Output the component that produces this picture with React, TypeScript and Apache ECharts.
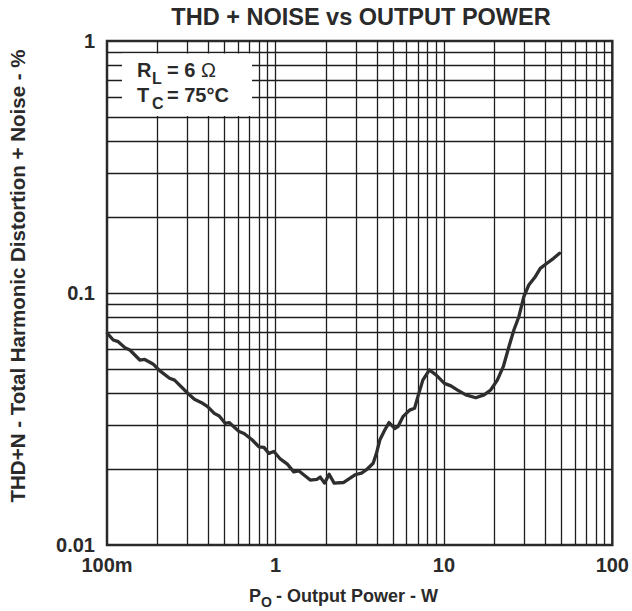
import React, { useEffect, useRef } from "react";
import * as echarts from "echarts";

// Curve: output power (W) vs THD+N (%)
const POWER_W = [
  0.1005, 0.1089, 0.1166, 0.1277, 0.1367, 0.1566, 0.1675, 0.1875, 0.2054, 0.2352,
  0.2518, 0.3016, 0.3303, 0.3697, 0.3957, 0.4334, 0.4638, 0.5031, 0.531, 0.6085,
  0.6512, 0.7291, 0.798, 0.8543, 0.9144, 0.9786, 1.072, 1.172, 1.284, 1.374,
  1.471, 1.61, 1.762, 1.845, 1.956, 2.084, 2.231, 2.531, 2.966, 3.245,
  3.473, 3.803, 3.978, 4.166, 4.457, 4.726, 5.106, 5.342, 5.715, 6.26,
  6.7, 7.008, 7.5, 8.21, 8.98, 10.07, 11.01, 12.06, 13.5, 15.46,
  17.33, 18.95, 20.76, 22.52, 24.33, 26.04, 27.87, 29.83, 31.92, 34.9,
  37.36, 40.93, 44.82, 48.6,
];
const THD_PCT = [
  0.0692, 0.0651, 0.0641, 0.0607, 0.0594, 0.0542, 0.0545, 0.0523, 0.0492, 0.0459,
  0.0451, 0.04, 0.0379, 0.0365, 0.0354, 0.0333, 0.0325, 0.0304, 0.0306, 0.0282,
  0.0277, 0.0261, 0.0245, 0.0244, 0.0231, 0.0235, 0.0219, 0.021, 0.0195, 0.0197,
  0.019, 0.0181, 0.0182, 0.0186, 0.0176, 0.0191, 0.0176, 0.0177, 0.019, 0.0193,
  0.0199, 0.0211, 0.0231, 0.0261, 0.0286, 0.0306, 0.029, 0.0295, 0.0323, 0.0343,
  0.0349, 0.0388, 0.0451, 0.0495, 0.0473, 0.0438, 0.0428, 0.0412, 0.0394, 0.0384,
  0.0394, 0.0412, 0.0451, 0.051, 0.0612, 0.0713, 0.0805, 0.0967, 0.1076, 0.1161,
  0.1253, 0.1312, 0.1373, 0.1437,
];

// Axis ranges and tick labels
const X_MIN = 0.1;
const X_MAX = 100;
const Y_MIN = 0.01;
const Y_MAX = 1;
const X_TICK_LABELS = ["100m", "1", "10", "100"]; // 10^-1 .. 10^2
const Y_TICK_LABELS = ["0.01", "0.1", "1"]; // 10^-2 .. 10^0

// Grid lines (every 1..9 step of each decade)
const X_GRID = [
  0.2, 0.3, 0.4, 0.5, 0.6, 0.7, 0.8, 0.9, 1,
  2, 3, 4, 5, 6, 7, 8, 9, 10,
  20, 30, 40, 50, 60, 70, 80, 90,
];
const Y_GRID = [
  0.02, 0.03, 0.04, 0.05, 0.06, 0.07, 0.08, 0.09, 0.1,
  0.2, 0.3, 0.4, 0.5, 0.6, 0.7, 0.8, 0.9,
];

const FONT = "Liberation Sans, Arial, Helvetica, sans-serif";
const INK = "#2a2a2a";

export default function App() {
  const ref = useRef<HTMLDivElement>(null);

  useEffect(() => {
    document.body.style.margin = "0";
    if (!ref.current) return;
    const chart = echarts.init(ref.current, undefined, { renderer: "svg" });

    const curve = POWER_W.map((p, i) => [p, THD_PCT[i]]);
    const gridLines = [
      ...X_GRID.map((v) => ({ xAxis: v })),
      ...Y_GRID.map((v) => ({ yAxis: v })),
    ];

    const txt = (
      x: number,
      y: number,
      text: string,
      size: number,
      opts: any = {}
    ) => ({
      type: "text",
      x,
      y,
      z: 20,
      style: {
        text,
        fill: INK,
        font: `${opts.weight || "bold"} ${size}px ${FONT}`,
        align: opts.align || "left",
        verticalAlign: "middle",
      },
      ...(opts.rotation ? { rotation: opts.rotation } : {}),
    });

    chart.setOption({
      animation: false,
      backgroundColor: "#ffffff",
      grid: {
        left: 107,
        top: 41,
        width: 509,
        height: 504,
        show: true,
        borderColor: INK,
        borderWidth: 2.5,
        backgroundColor: "#ffffff",
      },
      xAxis: {
        type: "log",
        logBase: 10,
        min: X_MIN,
        max: X_MAX,
        axisLine: { show: false },
        axisTick: { show: false },
        splitLine: { show: false },
        minorTick: { show: false },
        axisLabel: {
          margin: 10,
          color: INK,
          fontFamily: FONT,
          fontWeight: "bold",
          fontSize: 20,
          showMinLabel: true,
          showMaxLabel: true,
          formatter: (v: number) => {
            const i = Math.round(Math.log10(v)) + 1;
            return X_TICK_LABELS[i] ?? "";
          },
        },
      },
      yAxis: {
        type: "log",
        logBase: 10,
        min: Y_MIN,
        max: Y_MAX,
        axisLine: { show: false },
        axisTick: { show: false },
        splitLine: { show: false },
        minorTick: { show: false },
        axisLabel: {
          margin: 12,
          color: INK,
          fontFamily: FONT,
          fontWeight: "bold",
          fontSize: 20,
          showMinLabel: true,
          showMaxLabel: true,
          formatter: (v: number) => {
            const i = Math.round(Math.log10(v)) + 2;
            return Y_TICK_LABELS[i] ?? "";
          },
        },
      },
      series: [
        {
          type: "line",
          data: curve,
          showSymbol: false,
          symbol: "none",
          smooth: false,
          z: 5,
          lineStyle: { color: "#2e2e2e", width: 3.3, join: "round", cap: "round" },
          markLine: {
            silent: true,
            symbol: ["none", "none"],
            label: { show: false },
            z: 1,
            lineStyle: { type: "solid", color: "#1e1e1e", width: 1.3 },
            emphasis: { disabled: true },
            data: gridLines,
          },
        },
      ],
      graphic: [
        {
          type: "rect",
          z: 10,
          shape: { x: 122, y: 53.5, width: 130, height: 62.5 },
          style: { fill: "#ffffff" },
        },
        // Legend text
        txt(137, 70, "R", 20),
        txt(152, 78, "L", 16),
        txt(167, 70, "= 6", 20),
        txt(201, 70, "Ω", 20, { weight: "normal" }),
        txt(137, 95, "T", 20),
        txt(152, 103, "C", 16),
        txt(167, 95, "= 75°C", 20),
        // Title
        txt(361, 17, "THD + NOISE vs OUTPUT POWER", 23.5, { align: "center" }),
        // X axis name
        txt(249, 596, "P", 18),
        txt(261, 602, "O", 14),
        txt(276, 596, "- Output Power - W", 18),
        // Y axis name
        txt(17, 276, "THD+N - Total Harmonic Distortion + Noise - %", 20.5, {
          align: "center",
          rotation: Math.PI / 2,
        }),
      ],
    });

    return () => chart.dispose();
  }, []);

  return <div ref={ref} style={{ width: 632, height: 611 }} />;
}
